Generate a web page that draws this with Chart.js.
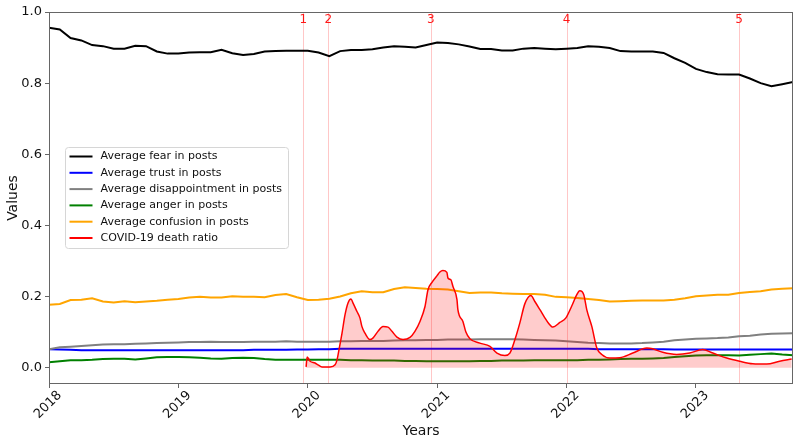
<!DOCTYPE html>
<html>
<head>
<meta charset="utf-8">
<script src="https://cdn.jsdelivr.net/npm/chart.js@4.4.0/dist/chart.umd.min.js"></script>
<style>
  html, body { margin: 0; padding: 0; background: #fff; }
</style>
</head>
<body>
<canvas id="emotionChart" width="800" height="445"></canvas>
<script>
// Monthly averages, Jan 2018 .. Oct 2023
const months = [
  '2018-01','2018-02','2018-03','2018-04','2018-05','2018-06','2018-07','2018-08','2018-09','2018-10','2018-11','2018-12',
  '2019-01','2019-02','2019-03','2019-04','2019-05','2019-06','2019-07','2019-08','2019-09','2019-10','2019-11','2019-12',
  '2020-01','2020-02','2020-03','2020-04','2020-05','2020-06','2020-07','2020-08','2020-09','2020-10','2020-11','2020-12',
  '2021-01','2021-02','2021-03','2021-04','2021-05','2021-06','2021-07','2021-08','2021-09','2021-10','2021-11','2021-12',
  '2022-01','2022-02','2022-03','2022-04','2022-05','2022-06','2022-07','2022-08','2022-09','2022-10','2022-11','2022-12',
  '2023-01','2023-02','2023-03','2023-04','2023-05','2023-06','2023-07','2023-08','2023-09','2023-10'
];

const fear = [
  0.956, 0.951, 0.927, 0.920, 0.907, 0.904, 0.897, 0.897, 0.905, 0.904, 0.889, 0.883,
  0.883, 0.886, 0.887, 0.887, 0.894, 0.884, 0.879, 0.882, 0.889, 0.890, 0.891, 0.891,
  0.891, 0.886, 0.876, 0.890, 0.893, 0.893, 0.895, 0.900, 0.904, 0.902, 0.900, 0.907,
  0.914, 0.913, 0.909, 0.903, 0.896, 0.896, 0.892, 0.892, 0.897, 0.899, 0.897, 0.895,
  0.897, 0.899, 0.904, 0.902, 0.899, 0.890, 0.889, 0.889, 0.889, 0.885, 0.870, 0.857,
  0.840, 0.831, 0.825, 0.824, 0.824, 0.813, 0.800, 0.791, 0.797, 0.803
];
const trust = [
  0.052, 0.051, 0.050, 0.049, 0.049, 0.049, 0.049, 0.049, 0.049, 0.049, 0.049, 0.049,
  0.049, 0.049, 0.049, 0.049, 0.049, 0.049, 0.049, 0.050, 0.050, 0.050, 0.050, 0.051,
  0.051, 0.052, 0.052, 0.053, 0.053, 0.053, 0.053, 0.053, 0.053, 0.053, 0.053, 0.053,
  0.053, 0.053, 0.053, 0.053, 0.053, 0.053, 0.053, 0.053, 0.053, 0.053, 0.053, 0.053,
  0.053, 0.053, 0.053, 0.052, 0.052, 0.052, 0.052, 0.052, 0.052, 0.052, 0.051, 0.051,
  0.051, 0.051, 0.051, 0.051, 0.051, 0.051, 0.051, 0.051, 0.051, 0.051
];
const disappointment = [
  0.052, 0.057, 0.059, 0.061, 0.063, 0.065, 0.066, 0.066, 0.067, 0.068, 0.069, 0.070,
  0.071, 0.072, 0.072, 0.073, 0.072, 0.072, 0.072, 0.073, 0.073, 0.073, 0.074, 0.073,
  0.073, 0.073, 0.073, 0.074, 0.074, 0.075, 0.075, 0.075, 0.076, 0.077, 0.077, 0.078,
  0.078, 0.079, 0.079, 0.079, 0.080, 0.080, 0.080, 0.080, 0.079, 0.078, 0.077, 0.076,
  0.074, 0.072, 0.070, 0.069, 0.068, 0.068, 0.068, 0.069, 0.071, 0.073, 0.077, 0.079,
  0.081, 0.082, 0.083, 0.085, 0.088, 0.090, 0.093, 0.095, 0.096, 0.097
];
const anger = [
  0.015, 0.018, 0.021, 0.021, 0.022, 0.024, 0.025, 0.025, 0.023, 0.026, 0.029, 0.030,
  0.030, 0.029, 0.028, 0.026, 0.025, 0.027, 0.028, 0.027, 0.024, 0.022, 0.022, 0.022,
  0.022, 0.022, 0.022, 0.022, 0.021, 0.021, 0.020, 0.020, 0.020, 0.019, 0.019, 0.018,
  0.018, 0.018, 0.018, 0.018, 0.019, 0.019, 0.020, 0.020, 0.020, 0.021, 0.021, 0.021,
  0.021, 0.021, 0.022, 0.022, 0.023, 0.024, 0.025, 0.025, 0.026, 0.027, 0.030, 0.032,
  0.034, 0.035, 0.035, 0.035, 0.034, 0.036, 0.038, 0.040, 0.037, 0.035
];
const confusion = [
  0.177, 0.179, 0.190, 0.191, 0.195, 0.186, 0.183, 0.187, 0.184, 0.186, 0.188, 0.191,
  0.193, 0.197, 0.199, 0.197, 0.197, 0.201, 0.199, 0.199, 0.198, 0.204, 0.207, 0.198,
  0.190, 0.191, 0.194, 0.200, 0.209, 0.215, 0.212, 0.212, 0.221, 0.226, 0.224, 0.222,
  0.221, 0.220, 0.215, 0.210, 0.211, 0.211, 0.209, 0.208, 0.207, 0.207, 0.205, 0.199,
  0.198, 0.196, 0.193, 0.190, 0.186, 0.187, 0.188, 0.189, 0.189, 0.189, 0.191, 0.195,
  0.201, 0.203, 0.205, 0.205, 0.210, 0.213, 0.215, 0.220, 0.222, 0.223
];

// COVID-19 death ratio (decimal year, value)
const deathYears = [
  2019.987, 2019.995, 2020.018, 2020.056, 2020.079, 2020.110, 2020.172, 2020.211, 2020.226, 2020.241,
  2020.265, 2020.288, 2020.311, 2020.334, 2020.349, 2020.380, 2020.403, 2020.418, 2020.442, 2020.480,
  2020.503, 2020.542, 2020.581, 2020.620, 2020.651, 2020.689, 2020.736, 2020.790, 2020.828, 2020.867,
  2020.906, 2020.929, 2020.960, 2020.998, 2021.021, 2021.044, 2021.075, 2021.083, 2021.106, 2021.122,
  2021.153, 2021.160, 2021.199, 2021.222, 2021.253, 2021.330, 2021.408, 2021.462, 2021.523, 2021.562,
  2021.601, 2021.639, 2021.678, 2021.724, 2021.755, 2021.794, 2021.832, 2021.856, 2021.894, 2021.948,
  2021.995, 2022.041, 2022.079, 2022.102, 2022.133, 2022.156, 2022.195, 2022.234, 2022.272, 2022.334,
  2022.411, 2022.512, 2022.620, 2022.666, 2022.743, 2022.851, 2022.952, 2023.052, 2023.130, 2023.238,
  2023.338, 2023.439, 2023.547, 2023.647, 2023.740
];
const deathRatio = [
  0.002, 0.030, 0.018, 0.013, 0.008, 0.002, 0.002, 0.008, 0.022, 0.050,
  0.098, 0.149, 0.182, 0.193, 0.182, 0.158, 0.140, 0.116, 0.097, 0.079,
  0.083, 0.102, 0.116, 0.114, 0.102, 0.086, 0.079, 0.085, 0.102, 0.130,
  0.172, 0.219, 0.240, 0.258, 0.269, 0.273, 0.268, 0.252, 0.247, 0.228,
  0.191, 0.163, 0.130, 0.100, 0.081, 0.069, 0.060, 0.041, 0.034, 0.041,
  0.079, 0.126, 0.180, 0.203, 0.186, 0.163, 0.140, 0.127, 0.114, 0.127,
  0.140, 0.174, 0.205, 0.216, 0.205, 0.163, 0.116, 0.055, 0.037, 0.027,
  0.028, 0.041, 0.055, 0.053, 0.043, 0.037, 0.041, 0.051, 0.041, 0.027,
  0.018, 0.011, 0.010, 0.018, 0.024
];

// Marked events
const eventYears = [2019.966, 2020.159, 2020.950, 2022.000, 2023.333];
const eventLabels = ['1', '2', '3', '4', '5'];

const xTicks = [2018, 2019, 2020, 2021, 2022, 2023];
const yTicks = [0.0, 0.2, 0.4, 0.6, 0.8, 1.0];

const FONT = "'DejaVu Sans', sans-serif";
Chart.defaults.font.family = FONT;

function monthToYear(m) {
    const parts = m.split('-').map(Number);
    return parts[0] + (parts[1] - 1) / 12;
}
const monthX = months.map(monthToYear);
const monthly = vals => vals.map((v, i) => ({ x: monthX[i], y: v }));

const overlay = {
    id: 'overlay',
    beforeDatasetsDraw(chart) {
        const { ctx, chartArea: a } = chart;
        const x = chart.scales.x;
        ctx.save();
        ctx.strokeStyle = 'rgba(255,0,0,0.22)';
        ctx.lineWidth = 1;
        eventYears.forEach(v => {
            const px = Math.round(x.getPixelForValue(v)) + 0.5;
            ctx.beginPath();
            ctx.moveTo(px, a.top);
            ctx.lineTo(px, a.bottom);
            ctx.stroke();
        });
        ctx.restore();
    },
    afterDraw(chart) {
        const { ctx, chartArea: a } = chart;
        const x = chart.scales.x;
        ctx.save();

        // frame
        ctx.strokeStyle = '#666';
        ctx.lineWidth = 1;
        ctx.strokeRect(a.left + 0.5, a.top + 0.5, a.right - a.left - 1, a.bottom - a.top - 1);

        // event numbers
        ctx.fillStyle = 'rgba(255,0,0,0.9)';
        ctx.font = '12px ' + FONT;
        ctx.textAlign = 'center';
        ctx.textBaseline = 'middle';
        eventYears.forEach((v, i) => {
            ctx.fillText(eventLabels[i], x.getPixelForValue(v), a.top + 8);
        });

        // rotated year labels
        ctx.fillStyle = '#111';
        ctx.font = '13px ' + FONT;
        x.ticks.forEach(t => {
            ctx.save();
            ctx.translate(x.getPixelForValue(t.value) - 1, a.bottom + 21);
            ctx.rotate(-Math.PI / 4);
            ctx.fillText(String(t.value), 0, 0);
            ctx.restore();
        });

        // axis titles
        ctx.font = '14px ' + FONT;
        ctx.fillText('Years', (a.left + a.right) / 2, a.bottom + 47);
        ctx.save();
        ctx.translate(13, (a.top + a.bottom) / 2);
        ctx.rotate(-Math.PI / 2);
        ctx.fillText('Values', 0, 0);
        ctx.restore();

        // legend
        const bx = a.left + 16.5, by = a.top + 135.5, bw = 223, bh = 101, r = 3;
        ctx.beginPath();
        ctx.moveTo(bx + r, by);
        ctx.arcTo(bx + bw, by, bx + bw, by + bh, r);
        ctx.arcTo(bx + bw, by + bh, bx, by + bh, r);
        ctx.arcTo(bx, by + bh, bx, by, r);
        ctx.arcTo(bx, by, bx + bw, by, r);
        ctx.closePath();
        ctx.fillStyle = 'rgba(255,255,255,0.85)';
        ctx.fill();
        ctx.strokeStyle = '#d6d6d6';
        ctx.stroke();

        ctx.font = '11px ' + FONT;
        ctx.textAlign = 'left';
        chart.data.datasets.forEach((ds, i) => {
            const cy = by + 9 + i * 16.3;
            ctx.strokeStyle = ds.borderColor;
            ctx.lineWidth = 2;
            ctx.beginPath();
            ctx.moveTo(bx + 4, cy);
            ctx.lineTo(bx + 27, cy);
            ctx.stroke();
            ctx.fillStyle = '#111';
            ctx.fillText(ds.label, bx + 35, cy);
        });
        ctx.restore();
    }
};

const lineStyle = { pointRadius: 0, borderWidth: 2, tension: 0, fill: false };

new Chart(document.getElementById('emotionChart'), {
    type: 'line',
    data: {
        datasets: [
            { ...lineStyle, label: 'Average fear in posts', data: monthly(fear), borderColor: '#000000', order: 5 },
            { ...lineStyle, label: 'Average trust in posts', data: monthly(trust), borderColor: '#0000ff', order: 4 },
            { ...lineStyle, label: 'Average disappointment in posts', data: monthly(disappointment), borderColor: '#808080', order: 3 },
            { ...lineStyle, label: 'Average anger in posts', data: monthly(anger), borderColor: '#008000', order: 2 },
            { ...lineStyle, label: 'Average confusion in posts', data: monthly(confusion), borderColor: '#ffa500', order: 1 },
            {
                label: 'COVID-19 death ratio',
                data: deathYears.map((v, i) => ({ x: v, y: deathRatio[i] })),
                borderColor: '#ff0000',
                backgroundColor: 'rgba(255,0,0,0.2)',
                borderWidth: 1.5,
                pointRadius: 0,
                cubicInterpolationMode: 'monotone',
                fill: 'origin',
                order: 0
            }
        ]
    },
    options: {
        responsive: false,
        animation: false,
        devicePixelRatio: 1,
        layout: { padding: { top: 12, right: 7, left: 0, bottom: 0 } },
        plugins: {
            legend: { display: false },
            tooltip: { enabled: false }
        },
        scales: {
            x: {
                type: 'linear',
                min: 2018,
                max: 2023.75,
                afterBuildTicks: s => { s.ticks = xTicks.map(v => ({ value: v })); },
                afterFit: s => { s.height = 61; },
                ticks: { display: false },
                grid: { drawOnChartArea: false, drawTicks: true, tickLength: 4, color: '#666' },
                border: { display: false }
            },
            y: {
                min: -0.046,
                max: 1.0,
                afterBuildTicks: s => { s.ticks = yTicks.map(v => ({ value: v })); },
                afterFit: s => { s.width = 49; },
                ticks: {
                    padding: 3,
                    color: '#111',
                    font: { size: 13 },
                    callback: v => v.toFixed(1)
                },
                grid: { drawOnChartArea: false, drawTicks: true, tickLength: 4, color: '#666' },
                border: { display: false }
            }
        }
    },
    plugins: [overlay]
});
</script>
</body>
</html>
